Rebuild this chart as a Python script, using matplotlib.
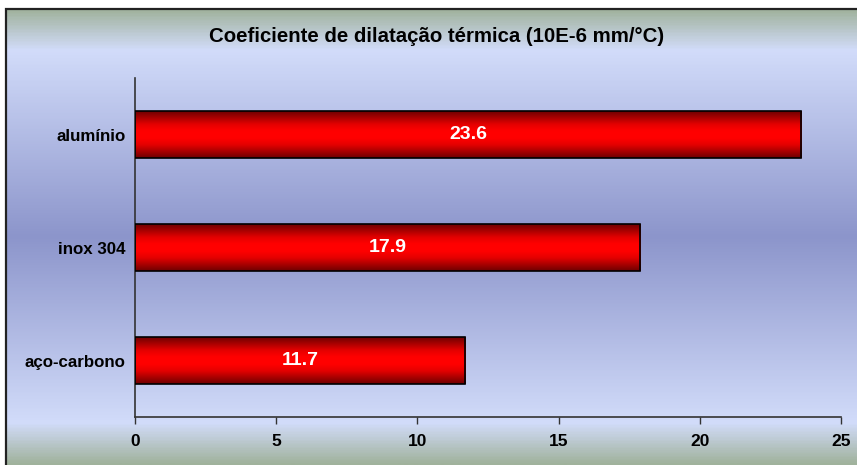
import numpy as np
import matplotlib.pyplot as plt
from matplotlib.colors import LinearSegmentedColormap
from matplotlib.patches import Rectangle

plt.rcParams['font.family'] = ['Liberation Sans', 'DejaVu Sans']

# data
materials = ['aço-carbono', 'inox 304', 'alumínio']
coef = [11.7, 17.9, 23.6]
title = 'Coeficiente de dilatação térmica (10E-6 mm/°C)'

fig = plt.figure(figsize=(8.57, 4.65), dpi=100)
fig.patch.set_facecolor('white')

# background gradient (green edges, light blue, darker blue band in the middle)
bg = fig.add_axes([6 / 857, 0, 1 - 6 / 857, 1 - 9 / 465], zorder=0)
bg_cmap = LinearSegmentedColormap.from_list('bg', [
    (0.00, '#a0b29c'),
    (0.09, '#d2dcfa'),
    (0.50, '#8c95cb'),
    (0.91, '#d2dcfa'),
    (1.00, '#a0b29c'),
])
grad = np.linspace(0, 1, 400).reshape(-1, 1)
bg.imshow(grad, aspect='auto', cmap=bg_cmap, extent=[0, 1, 0, 1])
bg.set_axis_off()
fig.add_artist(Rectangle((6 / 857, -0.01), 1, 1 - 9 / 465 + 0.01,
                         transform=fig.transFigure, fill=False,
                         edgecolor='#222222', linewidth=1.6, zorder=10))

ax = fig.add_axes([135 / 857, 1 - 417 / 465, (841 - 135) / 857, (417 - 78) / 465], zorder=1)
ax.patch.set_alpha(0)

bars = ax.barh(materials, coef, height=0.41, color='none',
               edgecolor='black', linewidth=1.2, zorder=3)

bar_cmap = LinearSegmentedColormap.from_list('bar', [
    (0.00, '#6e0000'),
    (0.28, '#e40000'),
    (0.42, '#ff0000'),
    (0.58, '#ff0000'),
    (0.72, '#e40000'),
    (1.00, '#6e0000'),
])
for b, v in zip(bars, coef):
    x0, y0 = b.get_x(), b.get_y()
    w, h = b.get_width(), b.get_height()
    im = ax.imshow(grad, aspect='auto', cmap=bar_cmap,
                   extent=[x0, x0 + w, y0, y0 + h], zorder=2)
    im.set_clip_path(b)
    ax.text(x0 + w / 2, y0 + h / 2, f'{v}', color='white', fontsize=14,
            fontweight='bold', ha='center', va='center', zorder=4)

ax.set_xlim(0, 25)
ax.set_ylim(-0.5, 2.5)
ax.set_xticks([0, 5, 10, 15, 20, 25])
ax.tick_params(axis='x', direction='out', length=5, width=1, color='#333333',
               labelsize=12.5, pad=7)
ax.tick_params(axis='y', length=0, labelsize=12.2, pad=7)
for lbl in ax.get_xticklabels() + ax.get_yticklabels():
    lbl.set_fontweight('bold')
for s in ['top', 'right']:
    ax.spines[s].set_visible(False)
for s in ['left', 'bottom']:
    ax.spines[s].set_color('#333333')
    ax.spines[s].set_linewidth(1.2)

fig.text(437 / 857, 1 - 37 / 465, title, fontsize=14.7, fontweight='bold',
         ha='center', va='center')

fig.savefig('out.png', dpi=100)
